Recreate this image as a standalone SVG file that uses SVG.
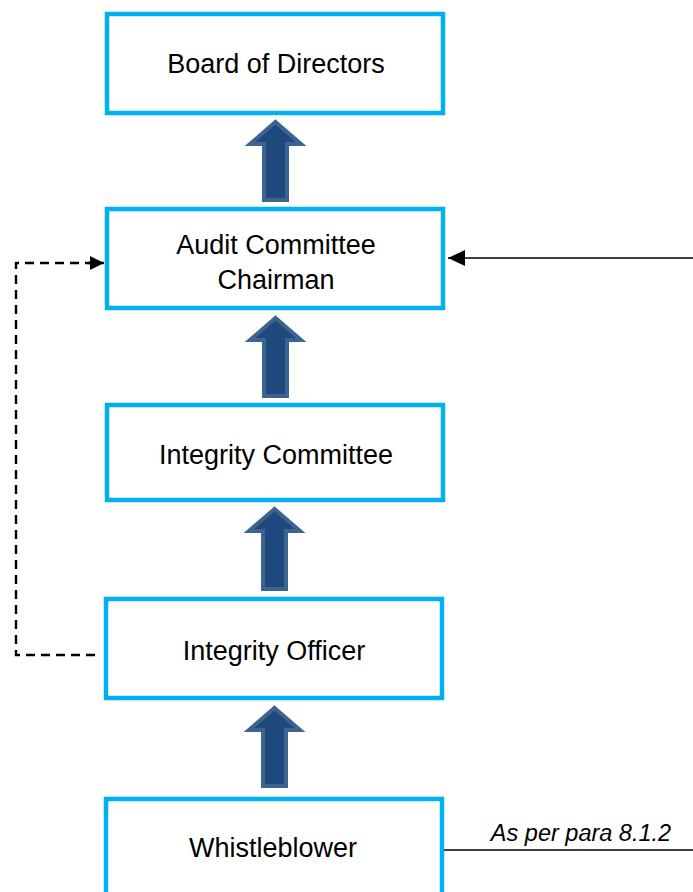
<svg xmlns="http://www.w3.org/2000/svg" width="693" height="892" viewBox="0 0 693 892">
<style>
.box{fill:#fff;stroke:#00B0F0;stroke-width:4.5}
.lbl{font-family:"Liberation Sans",Arial,sans-serif;font-size:27px;fill:#000;text-anchor:middle}
.up{fill:#1F497D;stroke:#3D6391;stroke-width:4;stroke-linejoin:miter}
.dash{fill:none;stroke:#000;stroke-width:2.4;stroke-dasharray:9,6}
.solid{fill:none;stroke:#000;stroke-width:1.6}
.note{font-family:"Liberation Sans",Arial,sans-serif;font-size:23.5px;font-style:italic;fill:#000;text-anchor:middle}
</style>
<defs>
<marker id="ah" markerWidth="14" markerHeight="14" refX="14" refY="7" orient="auto" markerUnits="userSpaceOnUse">
<path d="M0,0 L14,7 L0,14 Z" fill="#000"/>
</marker>
<marker id="ah2" markerWidth="17" markerHeight="16" refX="17" refY="8" orient="auto" markerUnits="userSpaceOnUse">
<path d="M0,0 L17,8 L0,16 Z" fill="#000"/>
</marker>
</defs>
<rect width="693" height="892" fill="#fff"/>
<g id="connectors">
<path class="up" d="M275.5,122 L301,144 L287,144 L287,200 L264,200 L264,144 L250,144 Z"/>
<path class="up" d="M275.5,318 L301,340 L287,340 L287,396 L264,396 L264,340 L250,340 Z"/>
<path class="up" d="M274.5,509 L300,531 L286,531 L286,589 L263,589 L263,531 L249,531 Z"/>
<path class="up" d="M274.5,708 L300,730 L286,730 L286,786 L263,786 L263,730 L249,730 Z"/>
<path class="dash" d="M95,655 L16,655 L16,263 L90,263"/>
<line x1="88" y1="263" x2="104" y2="263" stroke="#000" stroke-width="2.4" marker-end="url(#ah)"/>
<line class="solid" x1="693" y1="258" x2="448" y2="258" marker-end="url(#ah2)"/>
<line class="solid" x1="442" y1="850" x2="693" y2="850"/>
<text class="note" x="581" y="841">As per para 8.1.2</text>
</g>
<g id="board">
<rect class="box" x="107" y="14" width="336" height="99"/>
<text class="lbl" x="276" y="73">Board of Directors</text>
</g>
<g id="audit">
<rect class="box" x="107" y="209" width="336" height="99"/>
<text class="lbl" x="276" y="254">Audit Committee</text>
<text class="lbl" x="276" y="289">Chairman</text>
</g>
<g id="integrity-committee">
<rect class="box" x="107" y="405" width="336" height="95"/>
<text class="lbl" x="276" y="464">Integrity Committee</text>
</g>
<g id="integrity-officer">
<rect class="box" x="106" y="599" width="336" height="99"/>
<text class="lbl" x="274" y="660">Integrity Officer</text>
</g>
<g id="whistleblower">
<rect class="box" x="106" y="799" width="336" height="110"/>
<text class="lbl" x="273" y="857">Whistleblower</text>
</g>
</svg>
